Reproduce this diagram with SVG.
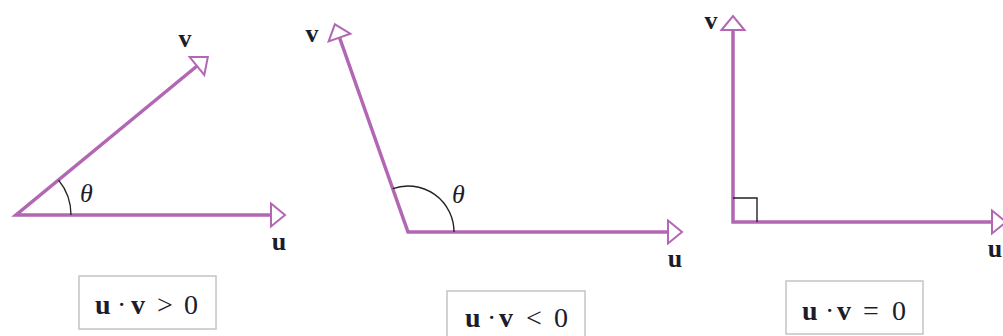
<svg xmlns="http://www.w3.org/2000/svg" width="1003" height="336" viewBox="0 0 1003 336">
<style>
.vec{fill:none;stroke:#b366b3;stroke-width:3.5;stroke-linejoin:miter;marker-start:url(#ah);marker-end:url(#ah)}
.arc{fill:none;stroke:#222;stroke-width:1.4}
.lbl{font-family:"Liberation Serif",serif;font-weight:bold;font-size:26px;fill:#1c1c2a;text-anchor:middle}
.th{font-family:"Liberation Serif",serif;font-style:italic;font-size:26px;fill:#1c1c2a}
.box{fill:#fff;stroke:#c4c4c4;stroke-width:1.5}
.eq{font-family:"Liberation Serif",serif;font-size:28px;fill:#1c1c2a}
.b{font-weight:bold}
</style>
<defs>
<marker id="ah" markerUnits="userSpaceOnUse" viewBox="-2 -14 18 28" markerWidth="18" markerHeight="28" refX="0" refY="0" orient="auto-start-reverse" overflow="visible">
<path d="M0,-11.5 L14,0 L0,11.5 Z" fill="#fff" stroke="#b366b3" stroke-width="2" stroke-linejoin="miter"/>
</marker>
</defs>
<g id="connectors">
<path class="vec" d="M197,66 L16,215 L271,215"/>
<path class="vec" d="M339.5,37.5 L408,232 L668,232"/>
<path class="vec" d="M733,30 L733,222 L992,222"/>
</g>
<g id="panel1">
<path class="arc" d="M71,215 A55,55 0 0 0 58.6,180.1"/>
<text class="th" x="80" y="202">θ</text>
<text class="lbl" x="185" y="47">v</text>
<text class="lbl" x="279" y="250">u</text>
</g>
<g id="panel2">
<path class="arc" d="M454,232 A46,46 0 0 0 392.7,188.6"/>
<text class="th" x="452" y="203">θ</text>
<text class="lbl" x="312" y="42">v</text>
<text class="lbl" x="675" y="267">u</text>
</g>
<g id="panel3">
<path class="arc" d="M733,198 L757,198 L757,222"/>
<text class="lbl" x="711" y="29">v</text>
<text class="lbl" x="995" y="257">u</text>
</g>
<g id="box1">
<rect class="box" x="79" y="276" width="137" height="53"/>
<text class="eq" y="314"><tspan class="b" x="95">u</tspan><tspan x="117">·</tspan><tspan class="b" x="131">v</tspan><tspan x="157">&gt;</tspan><tspan x="184">0</tspan></text>
</g>
<g id="box2">
<rect class="box" x="447" y="291" width="138" height="53"/>
<text class="eq" y="327"><tspan class="b" x="465">u</tspan><tspan x="487">·</tspan><tspan class="b" x="499">v</tspan><tspan x="526">&lt;</tspan><tspan x="554">0</tspan></text>
</g>
<g id="box3">
<rect class="box" x="786" y="281" width="137" height="53"/>
<text class="eq" y="320"><tspan class="b" x="802">u</tspan><tspan x="825">·</tspan><tspan class="b" x="837">v</tspan><tspan x="863">=</tspan><tspan x="892">0</tspan></text>
</g>
</svg>
